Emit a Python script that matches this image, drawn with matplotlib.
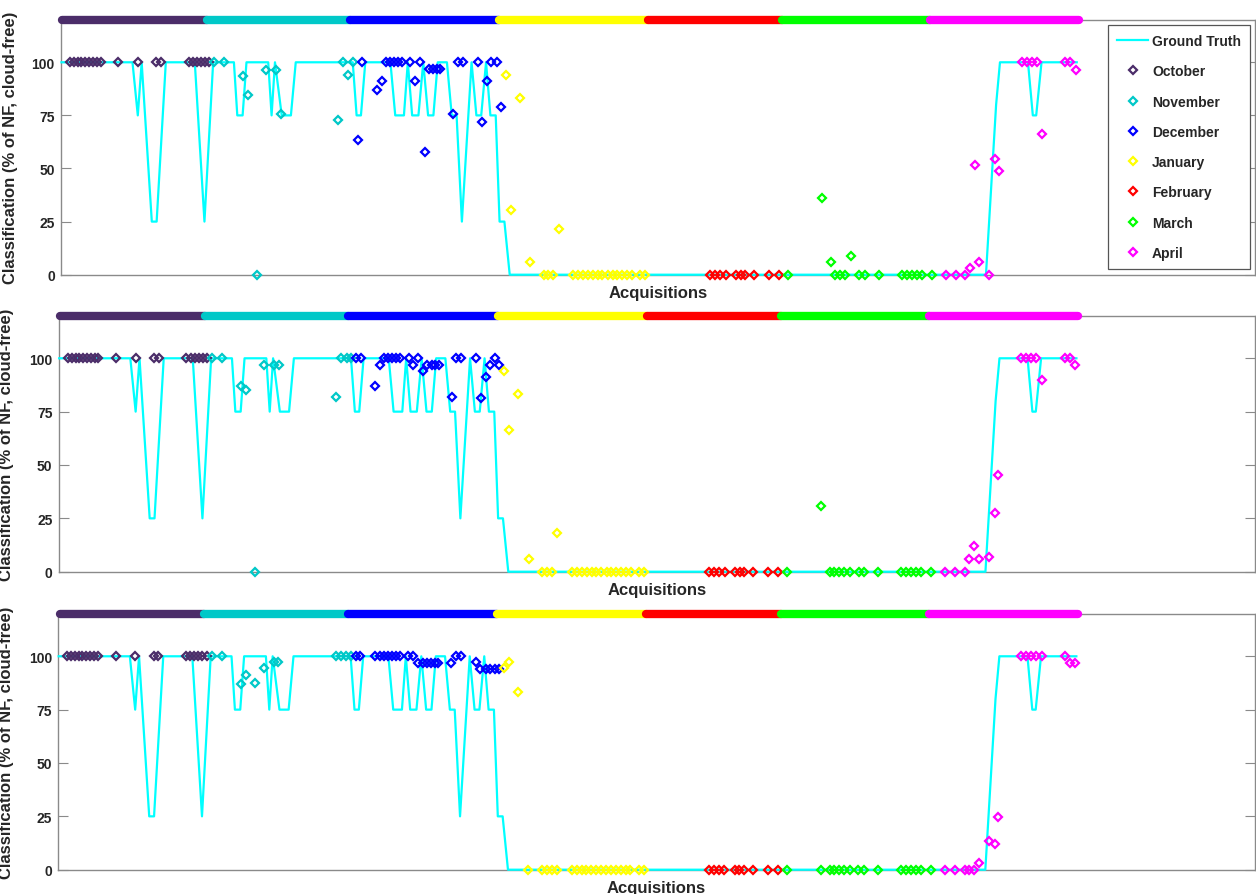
import matplotlib
matplotlib.use('Agg')
import matplotlib.pyplot as plt
from matplotlib.lines import Line2D

plt.rcParams['font.family'] = ['Liberation Sans', 'DejaVu Sans']

# ---------------- data ----------------
months = ['October', 'November', 'December', 'January', 'February', 'March', 'April']
month_colors = ['#4B2D69', '#00C8C8', '#0000FF', '#FFFF00', '#FF0000', '#00FF00', '#FF00FF']
month_bounds = [0.3, 30.2, 59.8, 90.7, 121.5, 149.2, 179.9, 210.7]

gt_x = [0.1, 14.8, 15.9, 16.7, 18.8, 19.8, 21.7, 27.7, 29.7, 31.5, 35.8, 36.5, 37.6, 38.4,
        42.9, 43.6, 44.3, 45.7, 47.6, 48.6, 60.4, 61.2, 62.1, 63.0, 68.2, 69.2, 71.0, 71.8,
        72.7, 74.0, 75.0, 76.0, 77.1, 78.0, 79.9, 80.9, 81.9, 83.0, 85.0, 86.0, 87.0, 88.0,
        88.9, 90.0, 90.8, 91.8, 92.9, 191.5, 193.6, 194.4, 200.2, 201.2, 201.9, 203.0, 210.3]
gt_y = [100, 100, 75, 100, 25, 25, 100, 100, 25, 100, 100, 75, 75, 100,
        100, 75, 100, 75, 75, 100, 100, 75, 75, 100, 100, 75, 75, 100,
        75, 75, 100, 75, 75, 100, 100, 75, 75, 25, 100, 75, 75, 100,
        75, 75, 25, 25, 0, 0, 80, 100, 100, 75, 75, 100, 100]

oct_x = [1.9, 2.7, 3.5, 4.2, 5.0, 5.8, 6.6, 7.4, 8.2, 11.9, 15.9, 19.7, 20.7,
         26.4, 27.3, 28.1, 28.9, 29.8, 30.7]
oct_p1 = [100, 100, 100, 100, 100, 100, 100, 100, 100, 100, 100, 100, 100, 100, 100, 100, 100, 100, 100]
oct_p2 = [100, 100, 100, 100, 100, 100, 100, 100, 100, 100, 100, 100, 100, 100, 100, 100, 100, 100, 100]
oct_p3 = [100, 100, 100, 100, 100, 100, 100, 100, 100, 100, 100, 100, 100, 100, 100, 100, 100, 100, 100]

nov_x = [31.7, 33.8, 37.7, 38.7, 40.6, 42.5, 44.5, 45.5, 57.4, 58.4, 59.5, 60.5]
nov_p1 = [100, 100, 93.4, 84.7, 0, 96.5, 96.5, 75.7, 72.8, 100, 94.2, 100]
nov_p2 = [100, 100, 86.9, 85.2, 0, 96.9, 96.9, 96.9, 82.0, 100, 100, 100]
nov_p3 = [100, 100, 87.0, 91.3, 87.5, 94.4, 97.2, 97.2, 100, 100, 100, 100]

dec_x = [61.5, 62.4, 65.4, 66.4, 67.3, 68.1, 68.9, 69.8, 70.5, 72.3, 73.3, 74.3, 75.3,
         76.2, 77.1, 77.8, 78.5, 81.2, 82.2, 83.2, 86.3, 87.2, 88.3, 89.1, 90.2, 91.0]
dec_p1 = [63.4, 100, 87.0, 91.2, 100, 100, 100, 100, 100, 100, 91.2, 100, 57.6,
          96.7, 96.7, 96.7, 96.7, 75.7, 100, 100, 100, 71.7, 91.2, 100, 100, 78.8]
dec_p2 = [100, 100, 86.9, 96.9, 100, 100, 100, 100, 100, 100, 96.9, 100, 94.2,
          96.9, 96.9, 96.9, 96.9, 82.0, 100, 100, 100, 81.3, 91.1, 96.9, 100, 96.9]
dec_p3 = [100, 100, 100, 100, 100, 100, 100, 100, 100, 100, 100, 96.9, 96.9,
          96.9, 96.9, 96.9, 96.9, 96.9, 100, 100, 97.2, 94.1, 94.1, 94.1, 94.1, 94.1]

jan_x = [92.1, 93.1, 95.0, 97.1, 99.9, 100.9, 101.9, 103.0, 106.1, 107.1, 108.1, 109.1,
         110.1, 111.1, 112.1, 113.2, 114.2, 115.2, 116.2, 117.2, 118.2, 119.9, 120.9]
jan_p1 = [94.2, 30.5, 83.3, 5.8, 0, 0, 0, 21.5, 0, 0, 0, 0, 0, 0, 0, 0, 0, 0, 0, 0, 0, 0, 0]
jan_p2 = [94.2, 66.5, 83.3, 5.9, 0, 0, 0, 18.1, 0, 0, 0, 0, 0, 0, 0, 0, 0, 0, 0, 0, 0, 0, 0]
jan_p3 = [94.4, 97.2, 83.4, 0, 0, 0, 0, 0, 0, 0, 0, 0, 0, 0, 0, 0, 0, 0, 0, 0, 0, 0, 0]

feb_x = [134.4, 135.4, 136.4, 137.6, 139.7, 140.7, 141.6, 143.5, 146.6, 148.7]
feb_p1 = [0, 0, 0, 0, 0, 0, 0, 0, 0, 0]
feb_p2 = [0, 0, 0, 0, 0, 0, 0, 0, 0, 0]
feb_p3 = [0, 0, 0, 0, 0, 0, 0, 0, 0, 0]

mar_x = [150.5, 157.5, 159.4, 160.2, 161.3, 162.3, 163.5, 165.3, 166.5, 169.4,
         174.1, 175.1, 176.1, 177.2, 178.2, 180.3]
mar_p1 = [0, 36.1, 5.8, 0, 0, 0, 9.0, 0, 0, 0, 0, 0, 0, 0, 0, 0]
mar_p2 = [0, 30.6, 0, 0, 0, 0, 0, 0, 0, 0, 0, 0, 0, 0, 0, 0]
mar_p3 = [0, 0, 0, 0, 0, 0, 0, 0, 0, 0, 0, 0, 0, 0, 0, 0]

apr_x = [183.2, 185.3, 187.2, 188.2, 189.2, 190.1, 192.2, 193.4, 194.1, 198.9, 199.9,
         201.0, 202.0, 203.2, 207.9, 208.9, 210.1]
apr_p1 = [0, 0, 0, 3.0, 51.8, 5.8, 0, 54.5, 48.7, 100, 100, 100, 100, 66.4, 100, 100, 96.5]
apr_p2 = [0, 0, 0, 5.9, 12.2, 5.9, 7.0, 27.5, 45.5, 100, 100, 100, 100, 90.0, 100, 100, 96.9]
apr_p3 = [0, 0, 0, 0, 0, 3.1, 13.6, 12.0, 24.5, 100, 100, 100, 100, 100, 100, 96.9, 96.9]

month_x = [oct_x, nov_x, dec_x, jan_x, feb_x, mar_x, apr_x]
panel_values = [
    [oct_p1, nov_p1, dec_p1, jan_p1, feb_p1, mar_p1, apr_p1],
    [oct_p2, nov_p2, dec_p2, jan_p2, feb_p2, mar_p2, apr_p2],
    [oct_p3, nov_p3, dec_p3, jan_p3, feb_p3, mar_p3, apr_p3],
]
yticks = [0, 25, 50, 75, 100]

# ---------------- layout ----------------
W, H = 1256, 895
fig = plt.figure(figsize=(W / 100, H / 100), dpi=100)
# (left px, bottom px, top px, ylabel centre px)
layout = [(61, 275.7, 20.8, 18), (58.7, 572.7, 316.6, 14), (58.2, 870.7, 614.6, 14)]
right_px = 1255
text_c = '#262626'
spine_c = '#8a8a8a'
gt_color = '#00FFFF'
ms, mew = 4.2, 1.6

axes = []
for p, (l, b, t, ylx) in enumerate(layout):
    ax = fig.add_axes([l / W, (H - b) / H, (right_px - l) / W, (b - t) / H])
    axes.append(ax)
    ax.set_xlim(0, 247.2)
    ax.set_ylim(0, 120)

    for i, c in enumerate(month_colors):
        ax.plot([month_bounds[i], month_bounds[i + 1]], [120, 120], color=c, lw=6,
                solid_capstyle='round', clip_on=False, zorder=6)

    ax.plot(gt_x, gt_y, color=gt_color, lw=1.6, zorder=3, clip_on=False)

    for xs, vals, c in zip(month_x, panel_values[p], month_colors):
        ax.plot(xs, vals, ls='none', marker='D', ms=ms, mfc='none', mec=c, mew=mew,
                clip_on=False, zorder=4)

    ax.set_xticks([])
    ax.set_yticks(yticks)
    ax.set_yticklabels([str(v) for v in yticks], fontsize=10, fontweight='bold', color=text_c)
    ax.tick_params(axis='y', direction='in', length=7, width=0.8, right=True,
                   colors=spine_c, labelcolor=text_c, pad=4.5)
    for s in ax.spines.values():
        s.set_color(spine_c)
        s.set_linewidth(1.0)

    ax.set_xlabel('Acquisitions', fontsize=12, fontweight='bold', color=text_c, labelpad=7.5)
    ax.set_ylabel('Classification (% of NF, cloud-free)', fontsize=12, fontweight='bold',
                  color=text_c)
    ax.yaxis.set_label_coords((ylx - l) / (right_px - l), 0.5)

handles = [Line2D([], [], color=gt_color, lw=1.6)]
for c in month_colors:
    handles.append(Line2D([], [], ls='none', marker='D', ms=ms, mfc='none', mec=c, mew=mew))
labels = ['Ground Truth'] + months
leg = axes[0].legend(handles, labels, loc='upper right',
                     bbox_to_anchor=(1250 / W, (H - 26) / H), bbox_transform=fig.transFigure,
                     borderaxespad=0, fancybox=False, framealpha=1, edgecolor='#555555',
                     prop={'weight': 'bold', 'size': 10}, labelspacing=1.17,
                     handlelength=2.2, handletextpad=0.3, borderpad=0.65)
leg.get_frame().set_linewidth(0.9)
for txt in leg.get_texts():
    txt.set_color(text_c)

fig.savefig('out.png', dpi=100)
